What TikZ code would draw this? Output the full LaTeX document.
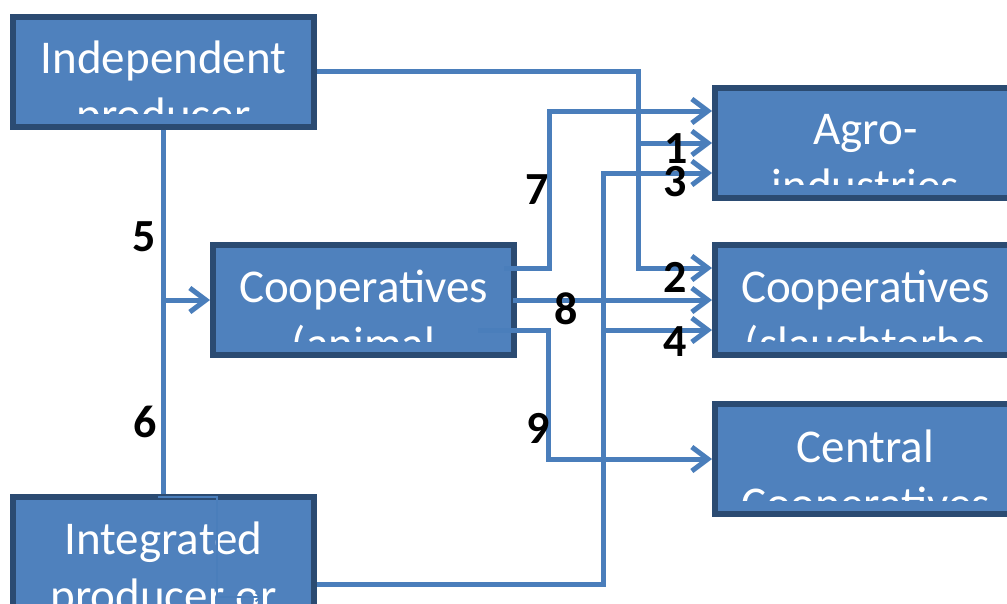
\documentclass[tikz,border=0pt]{standalone}
\usepackage{fontspec}
\setmainfont{Carlito}
\usetikzlibrary{arrows.meta}
\definecolor{boxfill}{HTML}{4F81BD}
\definecolor{boxline}{HTML}{2B4B72}
\definecolor{connc}{HTML}{4A7EBB}
\begin{document}
\begin{tikzpicture}[x=1pt,y=-1pt,
  box/.style={rectangle, draw=boxline, fill=boxfill, line width=6pt, minimum width=301pt, minimum height=110pt, inner sep=0pt},
  conn/.style={draw=connc, line width=5pt},
  arr/.style={conn, -{Straight Barb[length=16pt,width=24pt]}},
  ghost/.style={draw=connc, line width=1.8pt, -{Straight Barb[length=5pt,width=9pt]}},
  num/.style={font=\fontsize{46}{46}\selectfont\bfseries, text=black, inner sep=0pt},
  lbl/.style={font=\fontsize{47}{57}\selectfont, text=white, inner sep=0pt, anchor=base}
]
\useasboundingbox (0,0) rectangle (1007,603);
\clip (0,0) rectangle (1007,603);

% boxes
\node[box] (indep) at (163.5,71.5) {};
\node[box] (coopA) at (363.5,300) {};
\node[box] (integ) at (163.5,552) {};
\node[box] (agro) at (865.5,143) {};
\node[box] (coopS) at (865.5,300) {};
\node[box] (central) at (865.5,459) {};

% clipped box texts
\begin{scope}
\clip (16,19) rectangle (311,113);
\node[lbl] (indepT1) at (163.5,73) {Independent};
\node[lbl] (indepT2) at (163.5,130) {producer};
\end{scope}
\begin{scope}
\clip (216,248) rectangle (511,341);
\node[lbl] (coopAT1) at (363.5,302) {Cooperatives};
\node[lbl] (coopAT2) at (363.5,359) {(animal};
\end{scope}
\begin{scope}
\clip (16,500) rectangle (311,603);
\node[lbl] (integT1) at (163.5,554) {Integrated};
\node[lbl] (integT2) at (163.5,611) {producer or};
\end{scope}
\begin{scope}
\clip (718,91) rectangle (1013,184);
\node[lbl] (agroT1) at (865.5,144) {Agro-};
\node[lbl] (agroT2) at (865.5,201) {industries};
\end{scope}
\begin{scope}
\clip (718,248) rectangle (1013,341);
\node[lbl] (coopST1) at (865.5,302) {Cooperatives};
\node[lbl] (coopST2) at (865.5,359) {(slaughterho};
\end{scope}
\begin{scope}
\clip (718,407) rectangle (1013,500);
\node[lbl] (centralT1) at (865.5,462) {Central};
\node[lbl] (centralT2) at (865.5,519) {Cooperatives};
\end{scope}

% connectors
\draw[arr] (indep.east) -| (638,268) -- (coopS.west |- 0,268);
\draw[arr] (638,143) -- (agro.west);
\draw[arr] (integ.east |- 0,584) -| (603,173) -- (agro.west |- 0,173);
\draw[arr] (603,330) -- (coopS.west |- 0,330);
\draw[arr] (504,268) -| (549,111) -- (agro.west |- 0,111);
\draw[arr] (513,300) -- (coopS.west);
\draw[arr] (478,330) -| (548,459) -- (central.west);
\draw[conn] (indep.south) -- (integ.north);
\draw[arr] (indep.south |- coopA.west) -- (coopA.west);
\draw[ghost] (158,497) -- (217,497) -- (217,597) -- (262,597);

% labels
\node[num] (n1) at (676,149) {1};
\node[num] (n3) at (675,182) {3};
\node[num] (n7) at (537,190) {7};
\node[num] (n2) at (675,277) {2};
\node[num] (n8) at (566,309) {8};
\node[num] (n4) at (675,342) {4};
\node[num] (n5) at (144,237) {5};
\node[num] (n6) at (145,422) {6};
\node[num] (n9) at (538,428) {9};
\end{tikzpicture}
\end{document}
